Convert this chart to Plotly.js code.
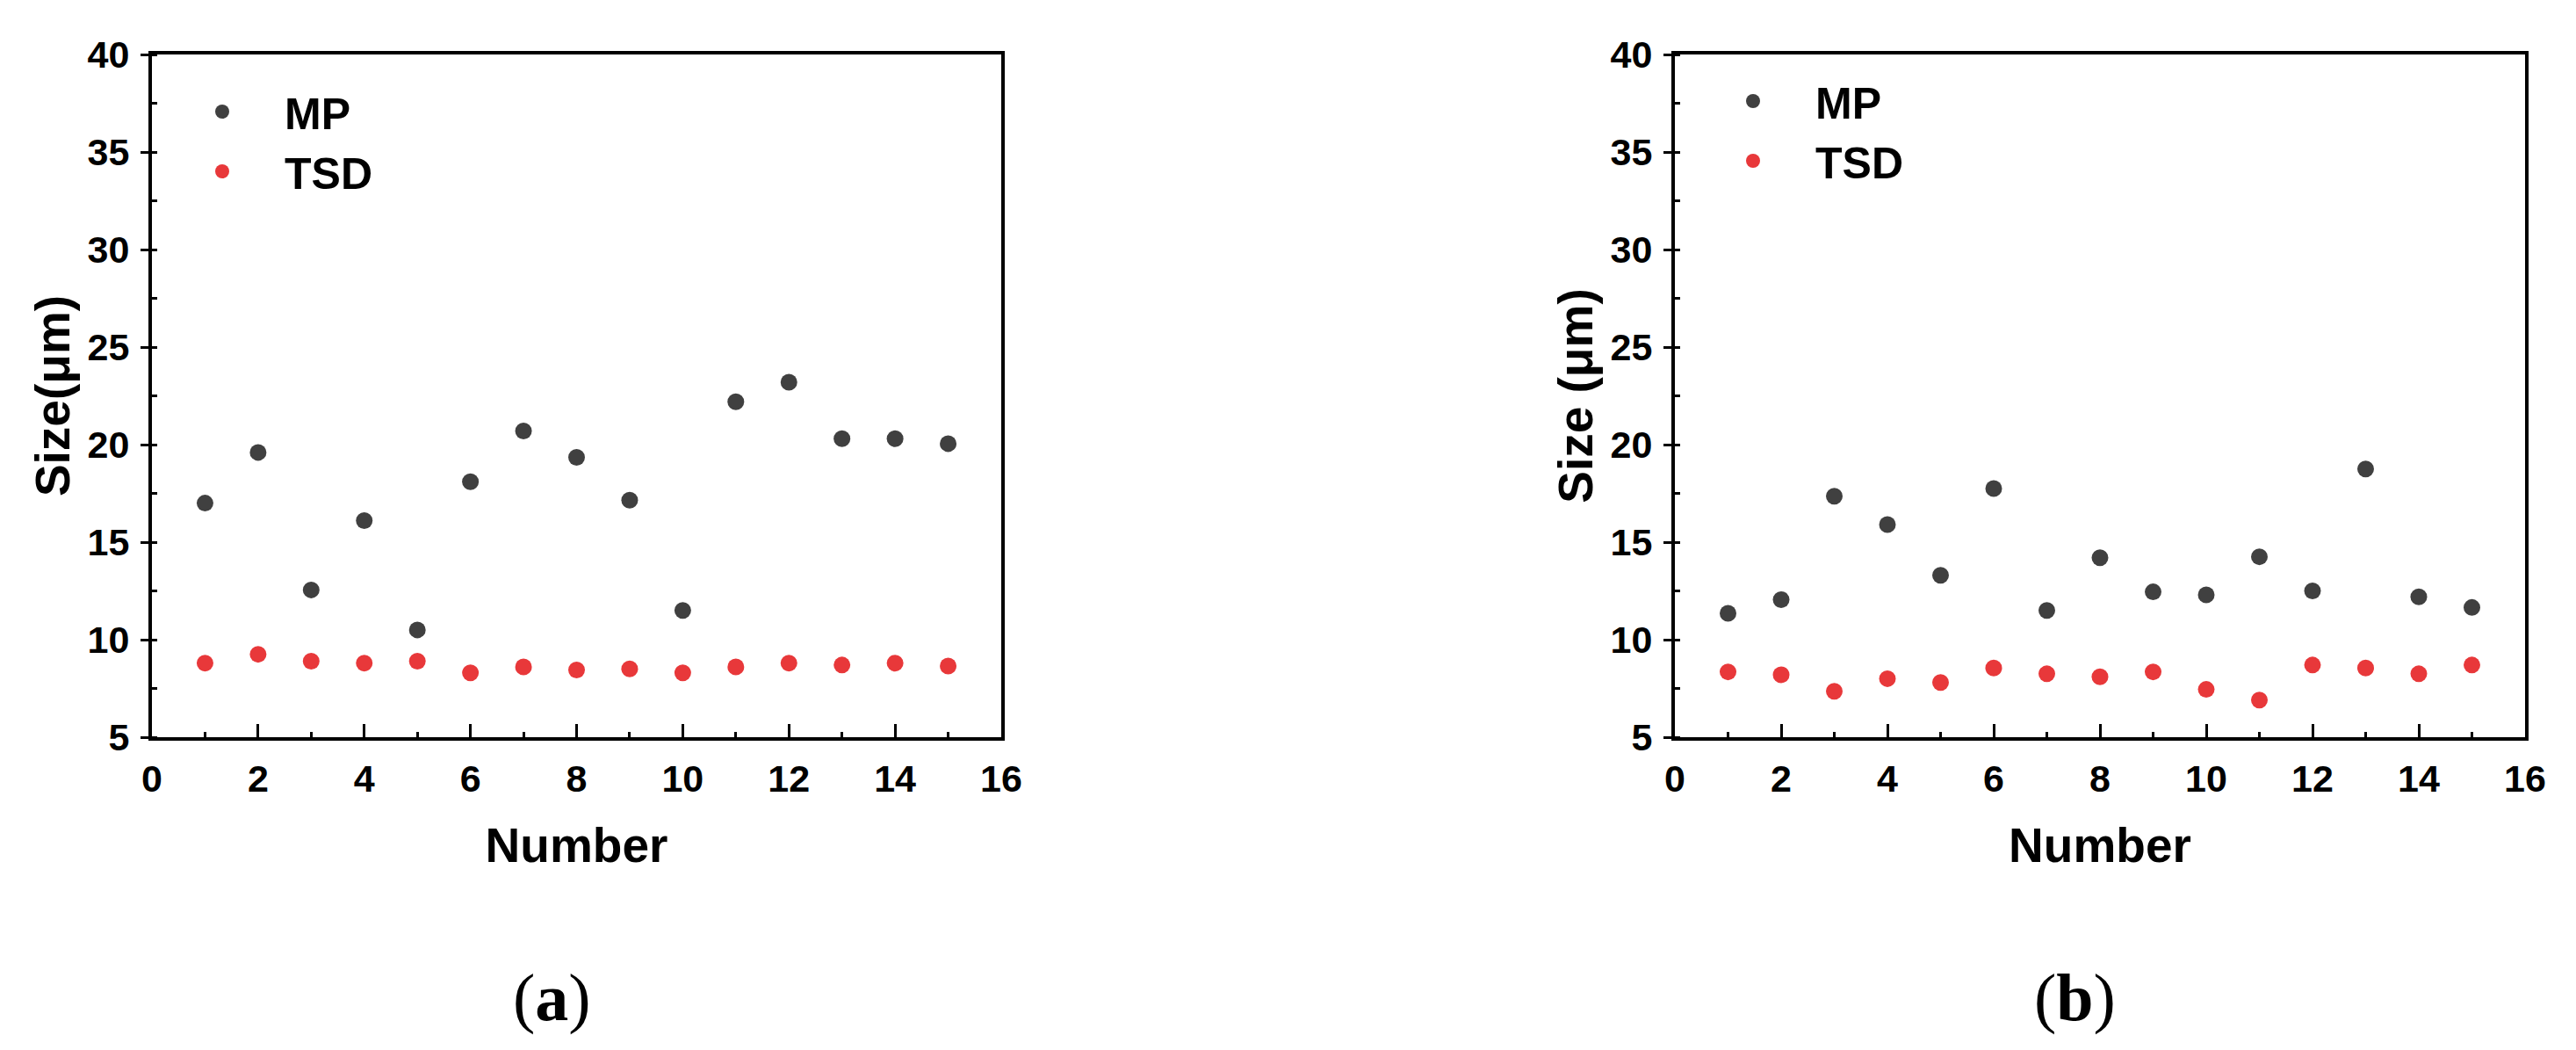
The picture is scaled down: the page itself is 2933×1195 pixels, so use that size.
<!DOCTYPE html>
<html>
<head>
<meta charset="utf-8">
<script src="https://cdn.plot.ly/plotly-3.0.1.min.js"></script>
<style>
  html, body { margin: 0; padding: 0; background: #ffffff; }
  #chart { width: 2933px; height: 1195px; }
</style>
</head>
<body>
<div id="chart"></div>
<script>
// ---- data ----
const numbers = [1, 2, 3, 4, 5, 6, 7, 8, 9, 10, 11, 12, 13, 14, 15];

const mpA  = [17.0, 19.6, 12.55, 16.1, 10.5, 18.1, 20.7, 19.35, 17.15, 11.5, 22.2, 23.2, 20.3, 20.3, 20.05];
const tsdA = [8.8, 9.25, 8.9, 8.8, 8.9, 8.3, 8.6, 8.45, 8.5, 8.3, 8.6, 8.8, 8.7, 8.8, 8.65];

const mpB  = [11.35, 12.05, 17.35, 15.9, 13.3, 17.75, 11.5, 14.2, 12.45, 12.3, 14.25, 12.5, 18.75, 12.2, 11.65];
const tsdB = [8.35, 8.2, 7.35, 8.0, 7.8, 8.55, 8.25, 8.1, 8.35, 7.45, 6.9, 8.7, 8.55, 8.25, 8.7];

const seriesNames = ["MP", "TSD"];
const panelLabels = ["(<b>a</b>)", "(<b>b</b>)"];
const yTitles = ["Size(μm)", "Size (μm)"];
const xTitle = "Number";

// ---- styles ----
const MP_COLOR = "#404040";
const TSD_COLOR = "#e8383a";
const FONT = "Liberation Sans, Arial, Helvetica, sans-serif";

function trace(y, name, color, xa, ya, legend) {
  return {
    type: "scatter", mode: "markers", x: numbers, y: y, name: name,
    xaxis: xa, yaxis: ya, legend: legend,
    marker: { color: color, size: 19, line: { width: 0 } },
    hoverinfo: "x+y"
  };
}

const data = [
  trace(mpA, seriesNames[0], MP_COLOR, "x", "y", "legend"),
  trace(tsdA, seriesNames[1], TSD_COLOR, "x", "y", "legend"),
  trace(mpB, seriesNames[0], MP_COLOR, "x2", "y2", "legend2"),
  trace(tsdB, seriesNames[1], TSD_COLOR, "x2", "y2", "legend2")
];

const W = 2933, H = 1195;
const yDom = [1 - 839 / H, 1 - 62 / H];

function xAxis(domain, anchor) {
  return {
    domain: domain, anchor: anchor, range: [0, 16], dtick: 2, tick0: 0,
    showgrid: false, zeroline: false,
    showline: true, linecolor: "#000", linewidth: 4, mirror: true,
    ticks: "inside", ticklen: 15, tickwidth: 3, tickcolor: "#000",
    minor: { dtick: 1, ticks: "inside", ticklen: 6, tickwidth: 3, tickcolor: "#000", showgrid: false },
    tickfont: { family: FONT, size: 43, color: "#000", weight: "bold" },
    ticklabelstandoff: 6,
    title: { text: xTitle, font: { family: FONT, size: 55, color: "#000", weight: "bold" }, standoff: 35 },
    fixedrange: true
  };
}
function yAxis(anchor, title) {
  return {
    domain: yDom, anchor: anchor, range: [5, 40], dtick: 5, tick0: 0,
    showgrid: false, zeroline: false,
    showline: true, linecolor: "#000", linewidth: 4, mirror: true,
    ticks: "outside", ticklen: 9, tickwidth: 3, tickcolor: "#000",
    minor: { dtick: 2.5, ticks: "inside", ticklen: 6, tickwidth: 3, tickcolor: "#000", showgrid: false },
    tickfont: { family: FONT, size: 43, color: "#000", weight: "bold" },
    ticklabelstandoff: 4,
    title: { text: title, font: { family: FONT, size: 55, color: "#000", weight: "bold" }, standoff: 3 },
    fixedrange: true
  };
}

function legendCfg(x, y) {
  return {
    x: x, y: y, xanchor: "left", yanchor: "top",
    bgcolor: "rgba(0,0,0,0)", borderwidth: 0,
    font: { family: FONT, size: 50, color: "#000", weight: "bold" },
    itemwidth: 132, tracegroupgap: 0
  };
}

const layout = {
  width: W, height: H,
  margin: { l: 0, r: 0, t: 0, b: 0, autoexpand: false },
  paper_bgcolor: "#fff", plot_bgcolor: "#fff",
  showlegend: true,
  xaxis: xAxis([173 / W, 1140 / W], "y"),
  yaxis: yAxis("x", yTitles[0]),
  xaxis2: xAxis([1907 / W, 2875 / W], "y2"),
  yaxis2: yAxis("x2", yTitles[1]),
  legend: legendCfg(182 / W, 1 - 88 / H),
  legend2: legendCfg(1925 / W, 1 - 76 / H),
  annotations: [
    { text: panelLabels[0], xref: "paper", yref: "paper", x: 628 / W, y: 1 - 1135 / H,
      xanchor: "center", yanchor: "middle", showarrow: false,
      font: { family: "Liberation Serif, Times New Roman, serif", size: 76, color: "#000" } },
    { text: panelLabels[1], xref: "paper", yref: "paper", x: 2362 / W, y: 1 - 1135 / H,
      xanchor: "center", yanchor: "middle", showarrow: false,
      font: { family: "Liberation Serif, Times New Roman, serif", size: 76, color: "#000" } }
  ]
};

Plotly.newPlot("chart", data, layout, { displayModeBar: false, staticPlot: true });
</script>
</body>
</html>
